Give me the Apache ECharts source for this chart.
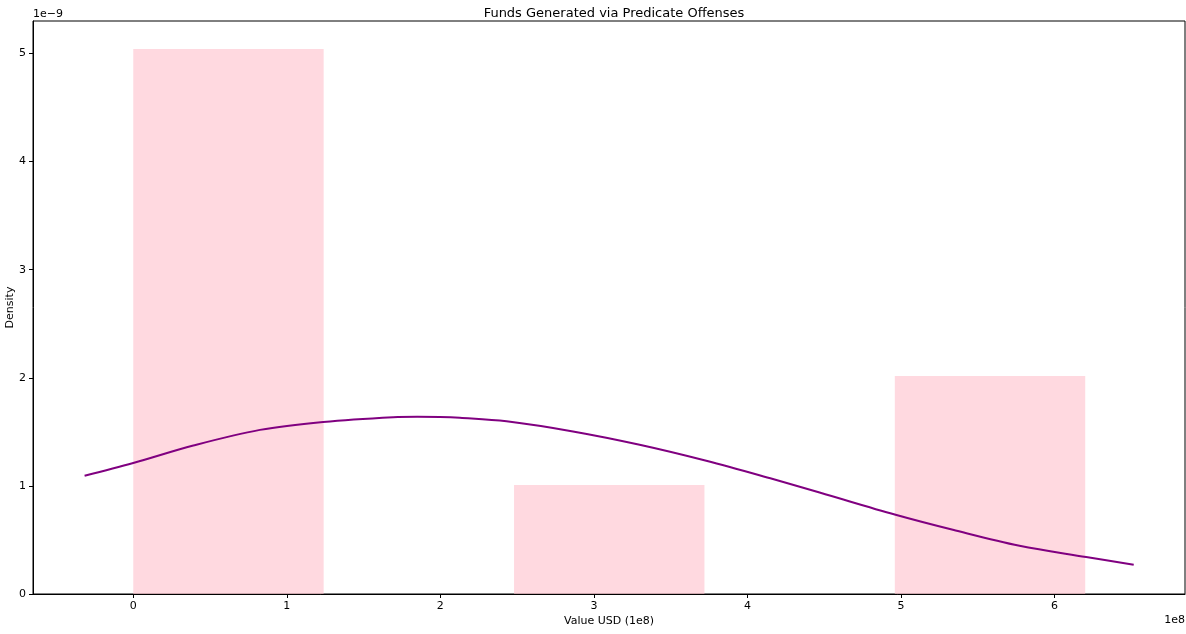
<!DOCTYPE html>
<html>
<head>
<meta charset="utf-8">
<script src="https://cdn.jsdelivr.net/npm/echarts@6/dist/echarts.min.js"></script>
<style>html,body{margin:0;padding:0;background:#fff;}#c{width:1186px;height:634px;}</style>
</head>
<body>
<div id="c"></div>
<script>
// Histogram bins (value in 1e8 USD), density in 1e-9
var binStarts = [0, 1.24, 2.48, 3.72, 4.96];
var binEnds = [1.24, 2.48, 3.72, 4.96, 6.2];
var densities = [5.04, 0, 1.008, 0, 2.016];
// Density curve (x in 1e8, y in 1e-9)
var curveX = [-0.317, 0, 0.391, 0.825, 1.237, 1.693, 1.85, 1.997, 2.127, 2.431, 2.864, 3.298, 3.732, 4.166, 4.470, 4.965, 5.338, 5.772, 6.206, 6.516];
var curveY = [1.093, 1.211, 1.373, 1.518, 1.592, 1.636, 1.640, 1.638, 1.630, 1.597, 1.503, 1.380, 1.232, 1.063, 0.939, 0.733, 0.594, 0.446, 0.342, 0.271];
var xTicks = [0, 1, 2, 3, 4, 5, 6];
var yTicks = [0, 1, 2, 3, 4, 5];

var font = 'DejaVu Sans';
var histData = binStarts.map(function (s, i) { return [s, binEnds[i], densities[i]]; });
var curveData = curveX.map(function (x, i) { return [x, curveY[i]]; });

var chart = echarts.init(document.getElementById('c'));
chart.setOption({
  animation: false,
  backgroundColor: '#fff',
  title: {
    text: 'Funds Generated via Predicate Offenses',
    left: 609, textAlign: 'center', top: 2,
    textStyle: { fontFamily: font, fontSize: 13, fontWeight: 'normal', color: '#000' }
  },
  grid: { left: 33, right: 1, top: 21, bottom: 40, outerBoundsMode: 'none', containLabel: false, show: true, borderColor: '#000', borderWidth: 1, backgroundColor: 'transparent' },
  xAxis: {
    type: 'value', min: -0.653, max: 6.85,
    name: 'Value USD (1e8)', nameLocation: 'middle', nameGap: 22, nameMoveOverlap: false,
    nameTextStyle: { fontFamily: font, fontSize: 11, color: '#000' },
    axisLine: { show: true, onZero: false, lineStyle: { color: '#000', width: 1 } },
    axisTick: { show: true, length: 4, lineStyle: { color: '#000' }, customValues: xTicks },
    axisLabel: { fontFamily: font, fontSize: 11, color: '#000', margin: 7, customValues: xTicks, formatter: function (v) { return String(v); } },
    splitLine: { show: false }
  },
  yAxis: {
    type: 'value', min: 0, max: 5.30,
    name: 'Density', nameLocation: 'middle', nameGap: 17, nameMoveOverlap: false,
    nameTextStyle: { fontFamily: font, fontSize: 11, color: '#000' },
    axisLine: { show: true, onZero: false, lineStyle: { color: '#000', width: 1 } },
    axisTick: { show: true, length: 4, lineStyle: { color: '#000' }, customValues: yTicks },
    axisLabel: { fontFamily: font, fontSize: 11, color: '#000', margin: 7, customValues: yTicks, formatter: function (v) { return String(v); } },
    splitLine: { show: false }
  },
  graphic: [
    { type: 'text', left: 33, top: 9, style: { text: '1e\u22129', fontFamily: font, fontSize: 11, fill: '#000' } },
    { type: 'text', right: 1, top: 615, style: { text: '1e8', fontFamily: font, fontSize: 11, fill: '#000' } }
  ],
  series: [
    {
      type: 'custom',
      data: histData,
      encode: { x: [0, 1], y: 2 },
      renderItem: function (params, api) {
        var p0 = api.coord([api.value(0), api.value(2)]);
        var p1 = api.coord([api.value(1), 0]);
        return {
          type: 'rect',
          shape: { x: p0[0], y: p0[1], width: p1[0] - p0[0], height: p1[1] - p0[1] },
          style: { fill: 'rgba(255,192,203,0.6)' }
        };
      },
      z: 1
    },
    {
      type: 'line',
      data: curveData,
      smooth: 0.35,
      showSymbol: false,
      lineStyle: { color: '#800080', width: 2 },
      z: 3
    }
  ]
});
</script>
</body>
</html>
